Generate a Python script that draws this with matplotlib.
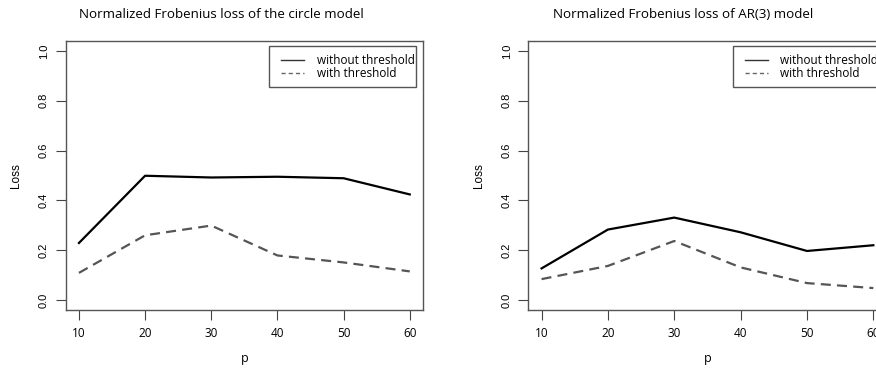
import matplotlib
matplotlib.use("Agg")
import matplotlib.pyplot as plt
from matplotlib.patches import Rectangle
from matplotlib.lines import Line2D

# sample sizes and normalized losses
p = [10, 20, 30, 40, 50, 60]
circle_without = [0.229, 0.499, 0.492, 0.495, 0.489, 0.424]
circle_with = [0.109, 0.260, 0.299, 0.179, 0.151, 0.115]
ar3_without = [0.127, 0.283, 0.331, 0.272, 0.197, 0.220]
ar3_with = [0.084, 0.137, 0.237, 0.131, 0.068, 0.048]

titles = ["Normalized Frobenius loss of the circle model",
          "Normalized Frobenius loss of AR(3) model"]
legend_labels = ["without threshold", "with threshold"]
yticks = [0.0, 0.2, 0.4, 0.6, 0.8, 1.0]

plt.rcParams["font.family"] = ["Open Sans", "DejaVu Sans"]

W, H = 876, 369
fig = plt.figure(figsize=(W / 100, H / 100), dpi=100)
fig.patch.set_facecolor("white")

# axes boxes in pixels: (left, top, right, bottom); right one runs past the edge
boxes = [(65.7, 41, 423, 310), (528.3, 41, 886.6, 310)]
title_x = [221, 683.5]
series = [(circle_without, circle_with), (ar3_without, ar3_with)]
DASH = (4.5, 2.8)


def legend_box(ax, aw, ah):
    # R style legend, placed by pixel offsets from the axes' top right corner
    def pt(dx, dy):
        return 1 - dx / aw, 1 - dy / ah
    x0, y0 = pt(153.7, 46.3)
    x1, y1 = pt(7, 5.3)
    ax.add_patch(Rectangle((x0, y0), x1 - x0, y1 - y0, transform=ax.transAxes,
                           fill=True, facecolor="white", edgecolor="#555555",
                           lw=1.0, zorder=5))
    styles = [dict(color="#333333"), dict(color="#666666", dashes=(3, 2.2))]
    for row, (lab, st) in enumerate(zip(legend_labels, styles)):
        dy = 19.3 + 13 * row
        xa, y = pt(142, dy)
        xb, _ = pt(119, dy)
        ax.add_line(Line2D([xa, xb], [y, y], transform=ax.transAxes, lw=1.0,
                           zorder=6, **st))
        xt, _ = pt(106.3, dy)
        ax.text(xt, y, lab, transform=ax.transAxes, ha="left", va="center",
                fontsize=8.5, zorder=6)


for box, tx, title, (s1, s2) in zip(boxes, title_x, titles, series):
    l, t, r, b = box
    ax = fig.add_axes([l / W, 1 - b / H, (r - l) / W, (b - t) / H])
    ax.plot(p, s1, color="black", lw=1.6)
    ax.plot(p, s2, color="#555555", lw=1.6, dashes=DASH)
    ax.set_xlim(8, 62)
    ax.set_ylim(-0.04, 1.04)
    ax.set_xticks(p)
    ax.set_xticklabels([str(v) for v in p], fontsize=8.5)
    ax.set_yticks(yticks)
    ax.set_yticklabels([f"{v:.1f}" for v in yticks], fontsize=8, rotation=90,
                       va="center", family="Liberation Sans")
    ax.tick_params(direction="out", length=7, width=0.8, color="#444444", pad=5)
    for sp in ax.spines.values():
        sp.set_color("#555555")
        sp.set_linewidth(1.0)
    ax.set_xlabel("p", fontsize=9, labelpad=9)
    ax.set_ylabel("Loss", fontsize=8.5, labelpad=12, family="Liberation Sans")
    fig.text(tx / W, 1 - 14 / H, title, ha="center", va="center", fontsize=9.6)
    legend_box(ax, r - l, b - t)

fig.savefig("out.png", dpi=100)
